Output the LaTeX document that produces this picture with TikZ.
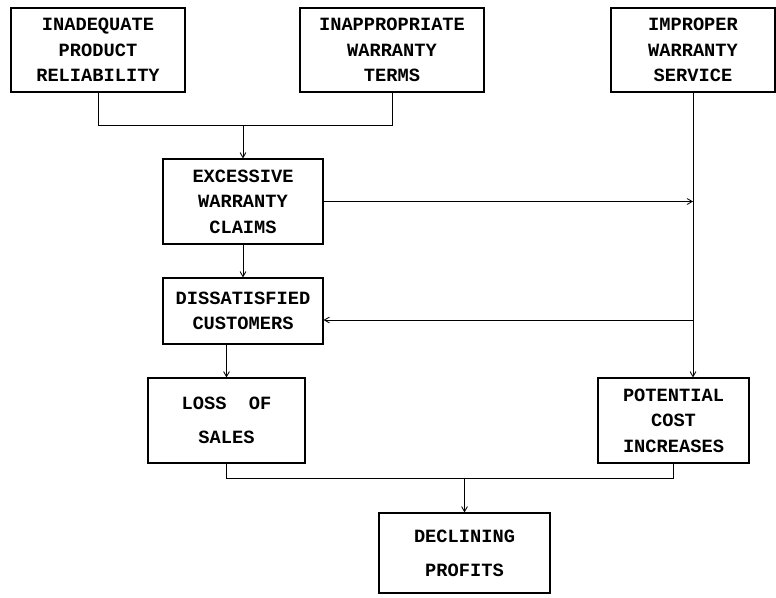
\documentclass[tikz,border=0pt]{standalone}
\usepackage{fontspec}
\setmonofont{Liberation Mono}
\usepackage{tikz}
\usetikzlibrary{positioning, arrows}

\begin{document}
\begin{tikzpicture}[->,>=angle 60, line width=0.6pt, block/.style={
		rectangle,
		draw=black, line width=0.8pt,
		inner sep=2pt,
		align=center,
		font=\ttfamily\bfseries\fontsize{13.3}{18.2}\selectfont,
	},]
	\useasboundingbox (0,0) rectangle (19.4,-14.925);
	\node[block, minimum width=4.35cm, minimum height=2.1cm] (R) at (2.45,-1.25) {INADEQUATE\\PRODUCT\\RELIABILITY};
	\node[block, right of = R, minimum width=4.6cm, minimum height=2.1cm, node distance=7.35cm] (T) {INAPPROPRIATE\\WARRANTY\\TERMS};
	\node[block, right of = T, minimum width=4.1cm, minimum height=2.1cm, node distance=7.525cm] (S) {IMPROPER\\WARRANTY\\SERVICE};
	\node[block, below of = R, xshift = 3.625cm, minimum width=4cm, minimum height=2.125cm, node distance=3.7875cm] (C) {EXCESSIVE\\WARRANTY\\CLAIMS};
	\node[block, below of = C, minimum width=4cm, minimum height=1.65cm, node distance=2.7375cm] (D) {DISSATISFIED\\CUSTOMERS};
	\node[block, below of = D, xshift = -0.4125cm, minimum width=3.925cm, minimum height=2.125cm, node distance=2.7375cm] (L) {LOSS~~OF\\[6pt]SALES};
	\node[block, right of = L, minimum width=3.775cm, minimum height=2.125cm, node distance=11.175cm] (P) {POTENTIAL\\COST\\INCREASES};
	\node[block, below of = L, xshift = 5.95cm, minimum width=4.275cm, minimum height=2cm, node distance=3.3125cm] (F) {DECLINING\\[6pt]PROFITS};

	\coordinate[above=0.825cm of C.north] (J1);
	\coordinate[above=0.85cm of F.north] (J2);

	\draw[-] (R.south) |- (J1);
	\draw[-] (T.south) |- (J1);
	\draw (J1) -- (C.north);
	\draw (C.south) -- (D.north);
	\draw (C.east) -- (C.east -| S.south);
	\draw (S.south) -- (S.south |- P.north);
	\draw ([yshift=-0.225cm]D.east -| S.south) -- ([yshift=-0.225cm]D.east);
	\draw (D.south -| L.north) -- (L.north);
	\draw[-] (L.south) |- (J2);
	\draw[-] (P.south) |- (J2);
	\draw (J2) -- (F.north);
\end{tikzpicture}
\end{document}
